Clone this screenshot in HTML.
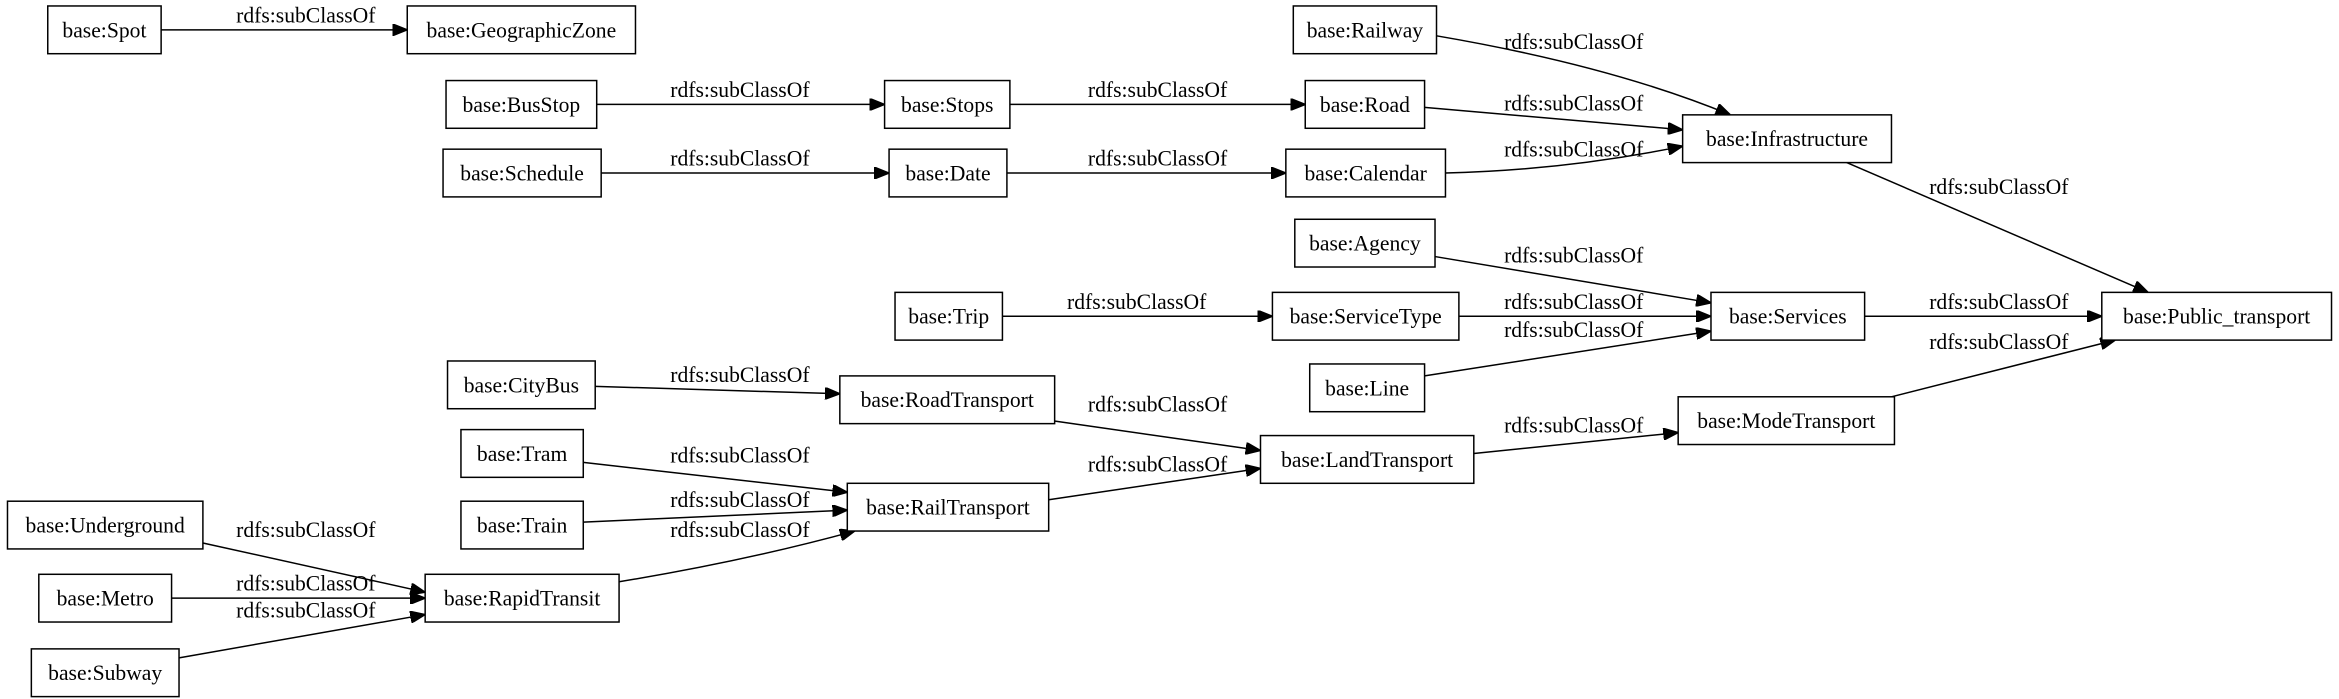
<!DOCTYPE html>
<html><head><meta charset="utf-8"><style>
html,body{margin:0;padding:0;background:#fff;width:2339px;height:699px;overflow:hidden}
svg{display:block}
text{font-family:"Liberation Serif",serif;font-size:14.5px;fill:#000}
rect{fill:#fff;stroke:#000;stroke-width:1}
path{fill:none;stroke:#000;stroke-width:1}
</style></head><body>
<svg width="2339" height="699" viewBox="0 0 1568 468.6" xmlns="http://www.w3.org/2000/svg">
<defs><marker id="a" markerUnits="userSpaceOnUse" markerWidth="10" markerHeight="8" refX="10" refY="4" orient="auto"><path d="M0,0 L10,4 L0,8 Z" style="fill:#000;stroke:#000"/></marker></defs>
<g>
<path marker-end="url(#a)" d="M108,20 L273,20"/><text x="205" y="15" text-anchor="middle">rdfs:subClassOf</text>
<path marker-end="url(#a)" d="M963,24 Q1080,44 1160,77"/><text x="1055" y="33" text-anchor="middle">rdfs:subClassOf</text>
<path marker-end="url(#a)" d="M955,72 L1128,87"/><text x="1055" y="74" text-anchor="middle">rdfs:subClassOf</text>
<path marker-end="url(#a)" d="M969,116 Q1050,114 1128,98"/><text x="1055" y="105" text-anchor="middle">rdfs:subClassOf</text>
<path marker-end="url(#a)" d="M400,70 L593,70"/><text x="496" y="65" text-anchor="middle">rdfs:subClassOf</text>
<path marker-end="url(#a)" d="M677,70 L875,70"/><text x="776" y="65" text-anchor="middle">rdfs:subClassOf</text>
<path marker-end="url(#a)" d="M403,116 L596,116"/><text x="496" y="111" text-anchor="middle">rdfs:subClassOf</text>
<path marker-end="url(#a)" d="M675,116 L862,116"/><text x="776" y="111" text-anchor="middle">rdfs:subClassOf</text>
<path marker-end="url(#a)" d="M1238,109 L1440,196"/><text x="1340" y="130" text-anchor="middle">rdfs:subClassOf</text>
<path marker-end="url(#a)" d="M962,172 L1147,203"/><text x="1055" y="176" text-anchor="middle">rdfs:subClassOf</text>
<path marker-end="url(#a)" d="M672,212 L853,212"/><text x="762" y="207" text-anchor="middle">rdfs:subClassOf</text>
<path marker-end="url(#a)" d="M978,212 L1147,212"/><text x="1055" y="207" text-anchor="middle">rdfs:subClassOf</text>
<path marker-end="url(#a)" d="M955,252 L1147,222"/><text x="1055" y="226" text-anchor="middle">rdfs:subClassOf</text>
<path marker-end="url(#a)" d="M1250,212 L1409,212"/><text x="1340" y="207" text-anchor="middle">rdfs:subClassOf</text>
<path marker-end="url(#a)" d="M1268,266 L1418,228"/><text x="1340" y="234" text-anchor="middle">rdfs:subClassOf</text>
<path marker-end="url(#a)" d="M399,259 L563,264"/><text x="496" y="256" text-anchor="middle">rdfs:subClassOf</text>
<path marker-end="url(#a)" d="M705,282 L845,302"/><text x="776" y="276" text-anchor="middle">rdfs:subClassOf</text>
<path marker-end="url(#a)" d="M988,304 L1125,290"/><text x="1055" y="290" text-anchor="middle">rdfs:subClassOf</text>
<path marker-end="url(#a)" d="M391,310 L568,330"/><text x="496" y="310" text-anchor="middle">rdfs:subClassOf</text>
<path marker-end="url(#a)" d="M391,350 L568,342"/><text x="496" y="340" text-anchor="middle">rdfs:subClassOf</text>
<path marker-end="url(#a)" d="M415,390 Q500,376 573,356"/><text x="496" y="360" text-anchor="middle">rdfs:subClassOf</text>
<path marker-end="url(#a)" d="M703,335 L845,314"/><text x="776" y="316" text-anchor="middle">rdfs:subClassOf</text>
<path marker-end="url(#a)" d="M136,364 L285,397"/><text x="205" y="360" text-anchor="middle">rdfs:subClassOf</text>
<path marker-end="url(#a)" d="M115,401 L285,401"/><text x="205" y="396" text-anchor="middle">rdfs:subClassOf</text>
<path marker-end="url(#a)" d="M120,441 L285,412"/><text x="205" y="414" text-anchor="middle">rdfs:subClassOf</text>
</g>
<g>
<rect x="32" y="4" width="76" height="32"/><text x="70" y="25" text-anchor="middle">base:Spot</text>
<rect x="273" y="4" width="153" height="32"/><text x="349.5" y="25" text-anchor="middle">base:GeographicZone</text>
<rect x="867" y="4" width="96" height="32"/><text x="915" y="25" text-anchor="middle">base:Railway</text>
<rect x="299" y="54" width="101" height="32"/><text x="349.5" y="75" text-anchor="middle">base:BusStop</text>
<rect x="593" y="54" width="84" height="32"/><text x="635" y="75" text-anchor="middle">base:Stops</text>
<rect x="875" y="54" width="80" height="32"/><text x="915" y="75" text-anchor="middle">base:Road</text>
<rect x="1128" y="77" width="140" height="32"/><text x="1198" y="98" text-anchor="middle">base:Infrastructure</text>
<rect x="297" y="100" width="106" height="32"/><text x="350" y="121" text-anchor="middle">base:Schedule</text>
<rect x="596" y="100" width="79" height="32"/><text x="635.5" y="121" text-anchor="middle">base:Date</text>
<rect x="862" y="100" width="107" height="32"/><text x="915.5" y="121" text-anchor="middle">base:Calendar</text>
<rect x="868" y="147" width="94" height="32"/><text x="915" y="168" text-anchor="middle">base:Agency</text>
<rect x="600" y="196" width="72" height="32"/><text x="636" y="217" text-anchor="middle">base:Trip</text>
<rect x="853" y="196" width="125" height="32"/><text x="915.5" y="217" text-anchor="middle">base:ServiceType</text>
<rect x="1147" y="196" width="103" height="32"/><text x="1198.5" y="217" text-anchor="middle">base:Services</text>
<rect x="1409" y="196" width="154" height="32"/><text x="1486" y="217" text-anchor="middle">base:Public_transport</text>
<rect x="878" y="244" width="77" height="32"/><text x="916.5" y="265" text-anchor="middle">base:Line</text>
<rect x="300" y="242" width="99" height="32"/><text x="349.5" y="263" text-anchor="middle">base:CityBus</text>
<rect x="563" y="252" width="144" height="32"/><text x="635" y="273" text-anchor="middle">base:RoadTransport</text>
<rect x="1125" y="266" width="145" height="32"/><text x="1197.5" y="287" text-anchor="middle">base:ModeTransport</text>
<rect x="309" y="288" width="82" height="32"/><text x="350" y="309" text-anchor="middle">base:Tram</text>
<rect x="845" y="292" width="143" height="32"/><text x="916.5" y="313" text-anchor="middle">base:LandTransport</text>
<rect x="309" y="336" width="82" height="32"/><text x="350" y="357" text-anchor="middle">base:Train</text>
<rect x="568" y="324" width="135" height="32"/><text x="635.5" y="345" text-anchor="middle">base:RailTransport</text>
<rect x="5" y="336" width="131" height="32"/><text x="70.5" y="357" text-anchor="middle">base:Underground</text>
<rect x="26" y="385" width="89" height="32"/><text x="70.5" y="406" text-anchor="middle">base:Metro</text>
<rect x="285" y="385" width="130" height="32"/><text x="350" y="406" text-anchor="middle">base:RapidTransit</text>
<rect x="21" y="435" width="99" height="32"/><text x="70.5" y="456" text-anchor="middle">base:Subway</text>
</g>
</svg>
</body></html>
